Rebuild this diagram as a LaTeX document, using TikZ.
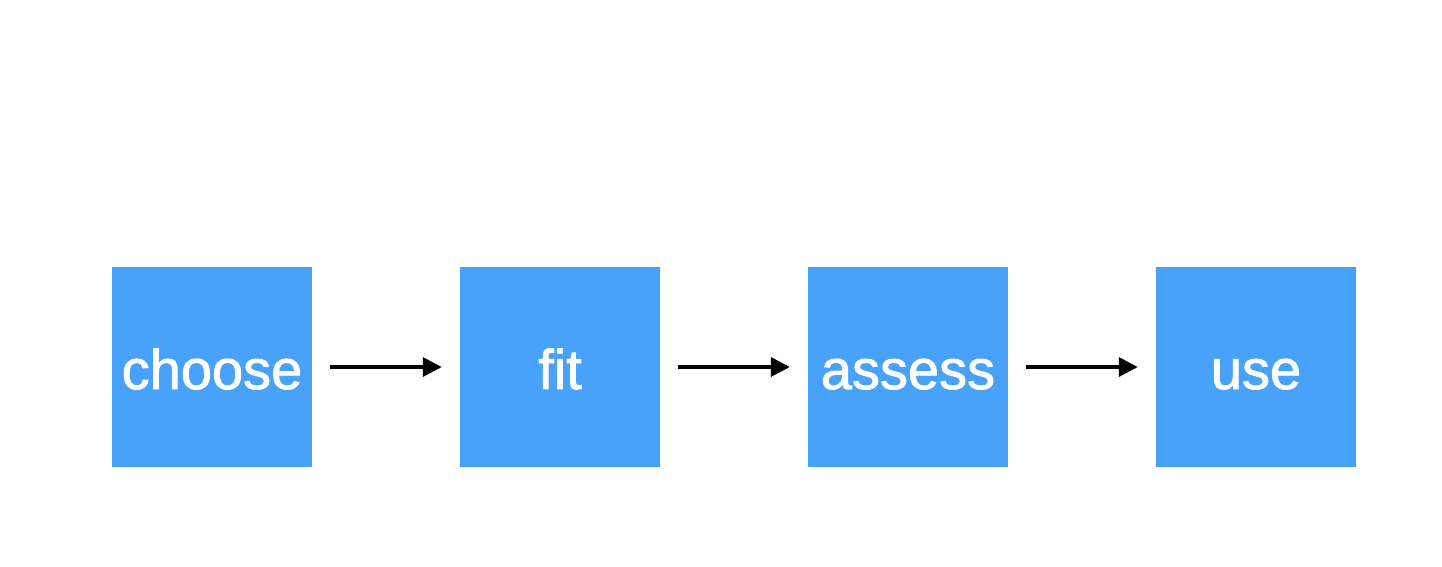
\documentclass[tikz,border=0pt]{standalone}
\usepackage{fontspec}
\setmainfont{Liberation Sans}
\newfontfamily\labelfont[FakeBold=1.5]{Liberation Sans}
\usetikzlibrary{arrows.meta}
\definecolor{boxblue}{RGB}{72,162,249}
\begin{document}
\begin{tikzpicture}[x=1pt,y=-1pt,
  stagebox/.style={fill=boxblue,minimum width=200pt,minimum height=200pt,inner sep=0pt,text=white,
    text height=44pt,text depth=0pt,font=\labelfont\fontsize{56}{60}\selectfont},
  flow/.style={line width=3.5pt,-{Triangle[length=19pt,width=19pt]}}]
\useasboundingbox (0,0) rectangle (1442,566);
\node[stagebox] (choose) at (212,367) {choose};
\node[stagebox] (fit) at (560,367) {fit};
\node[stagebox] (assess) at (908,367) {assess};
\node[stagebox] (use) at (1256,367) {use};
\draw[flow] ([xshift=18pt]choose.east) -- ([xshift=-18pt]fit.west);
\draw[flow] ([xshift=18pt]fit.east) -- ([xshift=-18pt]assess.west);
\draw[flow] ([xshift=18pt]assess.east) -- ([xshift=-18pt]use.west);
\end{tikzpicture}
\end{document}
